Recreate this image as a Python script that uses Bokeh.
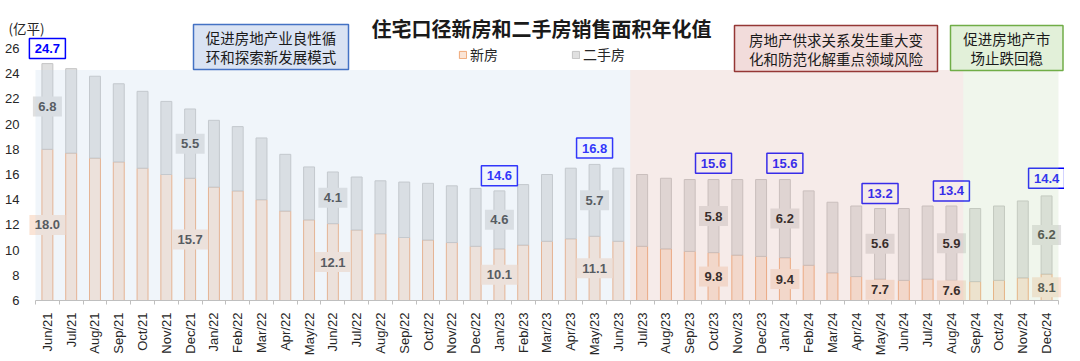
import math
from bokeh.plotting import figure
from bokeh.models import Range1d, FixedTicker, Legend, LegendItem
from bokeh.core.properties import value
from bokeh.embed import file_html
from bokeh.resources import INLINE

# ---------------- data ----------------
months = ["Jun/21", "Jul/21", "Aug/21", "Sep/21", "Oct/21", "Nov/21", "Dec/21",
          "Jan/22", "Feb/22", "Mar/22", "Apr/22", "May/22", "Jun/22", "Jul/22",
          "Aug/22", "Sep/22", "Oct/22", "Nov/22", "Dec/22", "Jan/23", "Feb/23",
          "Mar/23", "Apr/23", "May/23", "Jun/23", "Jul/23", "Aug/23", "Sep/23",
          "Oct/23", "Nov/23", "Dec/23", "Jan/24", "Feb/24", "Mar/24", "Apr/24",
          "May/24", "Jun/24", "Jul/24", "Aug/24", "Sep/24", "Oct/24", "Nov/24",
          "Dec/24"]
new_area = [18.0, 17.7, 17.3, 17.0, 16.5, 16.0, 15.7,
            15.0, 14.7, 14.0, 13.1, 12.4, 12.1, 11.6,
            11.3, 11.0, 10.8, 10.6, 10.3, 10.1, 10.4,
            10.7, 10.9, 11.1, 10.7, 10.3, 10.1, 9.9,
            9.8, 9.6, 9.5, 9.4, 8.8, 8.2, 7.9,
            7.7, 7.6, 7.7, 7.6, 7.5, 7.6, 7.8,
            8.1]
second_area = [6.8, 6.7, 6.5, 6.2, 6.1, 5.8, 5.5,
               5.3, 5.1, 4.9, 4.5, 4.2, 4.1, 4.2,
               4.2, 4.4, 4.5, 4.5, 4.6, 4.6, 4.8,
               5.3, 5.6, 5.7, 5.8, 5.7, 5.6, 5.7,
               5.8, 6.0, 6.1, 6.2, 5.9, 5.6, 5.6,
               5.6, 5.7, 5.8, 5.9, 5.8, 5.9, 6.1,
               6.2]
labelled_months = ["Jun/21", "Dec/21", "Jun/22", "Jan/23", "May/23",
                   "Oct/23", "Jan/24", "May/24", "Aug/24", "Dec/24"]
total_months = ["Jun/21", "Jan/23", "May/23", "Oct/23", "Jan/24",
                "May/24", "Aug/24", "Dec/24"]
total_values = [24.7, 14.6, 16.8, 15.6, 15.6, 13.2, 13.4, 14.4]
phase_starts = ["Jun/21", "Jul/23", "Sep/24"]
phase_texts = [["促进房地产业良性循", "环和探索新发展模式"],
               ["房地产供求关系发生重大变", "化和防范化解重点领域风险"],
               ["促进房地产市", "场止跌回稳"]]
series_names = ["新房", "二手房"]
y_ticks = [6, 8, 10, 12, 14, 16, 18, 20, 22, 24, 26]
unit_label = "(亿平)"
title_text = "住宅口径新房和二手房销售面积年化值"

# ---------------- layout helpers (pixel geometry of the page) ----------------
X_LEFT_IMG, PX_PER_CAT = 37.0, 23.79
Y_BASE_IMG, PX_PER_UNIT = 299.0, 12.6
Y_MIN = 6
FIG_X, FIG_Y = 2, -1          # where the figure lands in the screenshot
W, H = 1064, 355


def xd(img_x):
    return -0.5 + (img_x - X_LEFT_IMG) / PX_PER_CAT


def yd(img_y):
    return Y_MIN + (Y_BASE_IMG - img_y) / PX_PER_UNIT


p = figure(width=W, height=H, output_backend="svg", toolbar_location=None,
           x_range=Range1d(xd(FIG_X), xd(FIG_X + W)),
           y_range=Range1d(yd(FIG_Y + H), yd(FIG_Y)),
           min_border_left=0, min_border_right=0, min_border_top=0,
           min_border_bottom=0, title=None)
p.outline_line_color = None
p.xgrid.visible = False
p.ygrid.visible = False
p.background_fill_color = "white"
p.border_fill_color = "white"

NUM_FONT = value("Liberation Sans")
CJK_FONT = value("Noto Sans CJK SC")

NEW_FILL, NEW_LINE = "#fae4d6", "#f0a878"
SEC_FILL, SEC_LINE = "#e0e0e0", "#c4c4c4"

idx = list(range(len(months)))
tops = [n + s for n, s in zip(new_area, second_area)]
base = [Y_MIN] * len(months)

r_new = p.vbar(x=idx, width=0.46, bottom=base, top=new_area,
               fill_color=NEW_FILL, line_color=NEW_LINE, line_width=1)
r_sec = p.vbar(x=idx, width=0.46, bottom=new_area, top=tops,
               fill_color=SEC_FILL, line_color=SEC_LINE, line_width=1)

# data labels (segment values)
mi = {m: i for i, m in enumerate(months)}
green_start = mi[phase_starts[2]]
pink_start = mi[phase_starts[1]]

lx, ly, lt, lw, lf, lc = [], [], [], [], [], []
for m in labelled_months:
    i = mi[m]
    col = "#000000" if pink_start <= i < green_start else "#333333"
    for y, v, f in [((Y_MIN + new_area[i]) / 2, new_area[i], NEW_FILL),
                    (new_area[i] + second_area[i] / 2, second_area[i], SEC_FILL)]:
        s = f"{v:.1f}"
        lx.append(i); ly.append(y); lt.append(s)
        lw.append(7 * len(s) + 8); lf.append(f); lc.append(col)
p.rect(x=lx, y=ly, width=lw, height=[20] * len(lx), width_units="screen",
       height_units="screen", fill_color=lf, line_color=None)
p.text(x=lx, y=ly, text=lt, text_align="center", text_baseline="middle",
       text_font=NUM_FONT, text_font_style="bold", text_font_size="13px",
       text_color=lc)

# total value boxes
tx = [mi[m] for m in total_months]
ty = [v + 1.3 for v in total_values]
tt = [f"{v:.1f}" for v in total_values]
p.rect(x=tx, y=ty, width=[36] * len(tx), height=[20] * len(tx),
       width_units="screen", height_units="screen", fill_color="white",
       line_color="#0000ff", line_width=1.5)
p.text(x=tx, y=ty, text=tt, text_align="center", text_baseline="middle",
       text_font=NUM_FONT, text_font_style="bold", text_font_size="13px",
       text_color="#0000ff")

# phase shading bands (translucent overlay)
band_top = yd(68.5)
bounds = [mi[s] - 0.5 for s in phase_starts] + [len(months) - 0.5]
band_colors = ["#c3d7eb", "#dbafa7", "#c3dbb3"]
p.quad(left=bounds[:-1], right=bounds[1:], bottom=[Y_MIN] * 3, top=[band_top] * 3,
       fill_color=band_colors, fill_alpha=0.25, line_color=None)

# phase annotation boxes
box_px = [(195, 350, 23, 68), (736, 939, 24, 70), (952, FIG_X + W - 1.5, 24, 69)]
box_fill = ["#dae3f3", "#f2dcdb", "#e2f0d9"]
box_line = ["#4472c4", "#953735", "#70ad47"]
p.quad(left=[xd(b[0]) for b in box_px], right=[xd(b[1]) for b in box_px],
       top=[yd(b[2]) for b in box_px], bottom=[yd(b[3]) for b in box_px],
       fill_color=box_fill, line_color=box_line, line_width=1.5)
px_, py_, pt_ = [], [], []
for b, lines in zip(box_px, phase_texts):
    cx = xd((b[0] + b[1]) / 2)
    cy = (b[2] + b[3]) / 2
    for k, ln in enumerate(lines):
        px_.append(cx); py_.append(yd(cy - 9.5 + 19 * k)); pt_.append(ln)
p.text(x=px_, y=py_, text=pt_, text_align="center", text_baseline="middle",
       text_font=CJK_FONT, text_font_size="14.5px", text_color="#1a1a1a")

# title
p.text(x=[xd(543)], y=[yd(27)], text=[title_text], text_align="center",
       text_baseline="middle", text_font=CJK_FONT, text_font_style="bold",
       text_font_size="20px", text_color="#1a1a1a")

# unit label
p.text(x=[xd(10)], y=[yd(26)], text=[unit_label], text_align="left",
       text_baseline="middle", text_font=CJK_FONT, text_font_size="13.5px",
       text_color="#262626")

# legend
legend = Legend(items=[LegendItem(label=series_names[0], renderers=[r_new]),
                       LegendItem(label=series_names[1], renderers=[r_sec])],
                location=(460 - FIG_X, FIG_Y + H - 63), orientation="horizontal",
                padding=0, margin=0, spacing=73, glyph_width=9, glyph_height=9,
                label_standoff=3, label_text_font_size="14px",
                label_text_font="Noto Sans CJK SC", label_text_color="#262626",
                border_line_color=None, background_fill_alpha=0)
p.add_layout(legend)

# axes (drawn at fixed positions inside the canvas)
p.yaxis.fixed_location = xd(30)
p.yaxis.ticker = FixedTicker(ticks=y_ticks)
p.yaxis.axis_line_color = None
p.yaxis.major_tick_line_color = None
p.yaxis.minor_tick_line_color = None
p.yaxis.major_tick_out = 0
p.yaxis.major_tick_in = 0
p.yaxis.major_label_standoff = 9
p.yaxis.major_label_text_font = "Liberation Sans"
p.yaxis.major_label_text_font_size = "13px"
p.yaxis.major_label_text_color = "#262626"

p.xaxis.fixed_location = Y_MIN
p.xaxis.bounds = (-0.5, len(months) - 0.5)
p.xaxis.ticker = FixedTicker(ticks=idx, minor_ticks=[i - 0.5 for i in range(len(months) + 1)])
p.xaxis.major_label_overrides = {i: m for i, m in enumerate(months)}
p.xaxis.major_tick_out = 0
p.xaxis.major_tick_in = 0
p.xaxis.minor_tick_out = 4
p.xaxis.minor_tick_in = 0
p.xaxis.minor_tick_line_color = "#bfbfbf"
p.xaxis.axis_line_color = "#bfbfbf"
p.xaxis.major_label_orientation = math.pi / 2
p.xaxis.major_label_standoff = 8
p.xaxis.major_label_text_font = "Liberation Sans"
p.xaxis.major_label_text_font_size = "13px"
p.xaxis.major_label_text_color = "#262626"

open("out.html", "w").write(file_html(p, INLINE))
